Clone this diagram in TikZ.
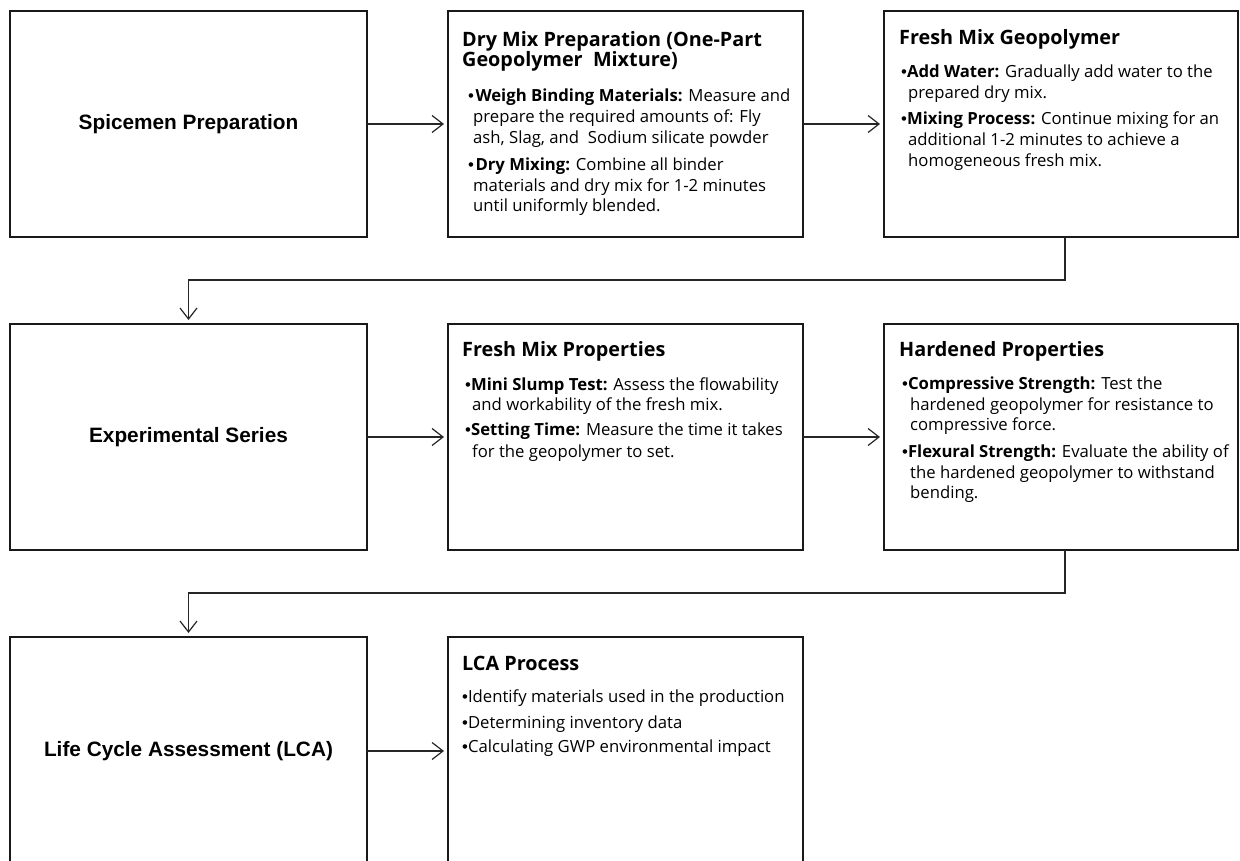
\documentclass[tikz,border=0pt]{standalone}
\usepackage{fontspec}
\setmainfont{Open Sans}[Ligatures={NoCommon}]
\newfontfamily\lsans{Liberation Sans}
\usetikzlibrary{arrows.meta}
\newcommand{\bul}{{\lsans •}}
\begin{document}
\begin{tikzpicture}[x=1pt,y=-1pt,
  box/.style={draw=black!90, line width=2.6pt, rectangle, inner sep=0pt, outer sep=0pt, minimum height=226pt, anchor=north west},
  conn/.style={draw=black!85, line width=1.2pt, -{Straight Barb[length=11pt,width=17pt]}, shorten >=4pt},
  lbl/.style={font=\lsans\bfseries\fontsize{20.8}{24}\selectfont, inner sep=0pt},
  ttl/.style={anchor=base west, inner sep=0pt, font=\bfseries\fontsize{19.8}{22}\selectfont},
  ln/.style={anchor=base west, inner sep=0pt, font=\fontsize{16.7}{19}\selectfont},
]
\useasboundingbox (0,0) rectangle (1240,861);
\clip (0,0) rectangle (1240,861);

% boxes
\node[box, minimum width=357pt] (b1) at (10,11) {};
\node[box, minimum width=355pt] (b2) at (448,11) {};
\node[box, minimum width=354pt] (b3) at (884,11) {};
\node[box, minimum width=357pt] (b4) at (10,324) {};
\node[box, minimum width=355pt] (b5) at (448,324) {};
\node[box, minimum width=354pt] (b6) at (884,324) {};
\node[box, minimum width=357pt, minimum height=228pt] (b7) at (10,637) {};
\node[box, minimum width=355pt, minimum height=228pt] (b8) at (448,637) {};

% left labels
\node[lbl] (l1) at (b1.center) {Spicemen Preparation};
\node[lbl] (l4) at (b4.center) {Experimental Series};
\node[lbl] (l7) at (b7.center) {Life Cycle Assessment (LCA)};

% box 2
\node[ttl] (t2a) at (462,47) {Dry Mix Preparation (One-Part};
\node[ttl] (t2b) at (462,67) {Geopolymer~ Mixture)};
\node[ln] (t2c) at (468,102) {\bul\hspace{1.5pt}\textbf{Weigh Binding Materials:} Measure and};
\node[ln] (t2d) at (473,123) {prepare the required amounts of: Fly};
\node[ln] (t2e) at (473,144) {ash, Slag, and~ Sodium silicate powder};
\node[ln] (t2f) at (468,171) {\bul\hspace{1.5pt}\textbf{Dry Mixing:} Combine all binder};
\node[ln] (t2g) at (473,192) {materials and dry mix for 1-2 minutes};
\node[ln] (t2h) at (473,212) {until uniformly blended.};

% box 3
\node[ttl] (t3a) at (899,45) {Fresh Mix Geopolymer};
\node[ln] (t3b) at (901,78) {\bul\textbf{Add Water:} Gradually add water to the};
\node[ln] (t3c) at (908,99) {prepared dry mix.};
\node[ln] (t3d) at (901,125) {\bul\textbf{Mixing Process:} Continue mixing for an};
\node[ln] (t3e) at (908,146) {additional 1-2 minutes to achieve a};
\node[ln] (t3f) at (908,167) {homogeneous fresh mix.};

% box 5
\node[ttl] (t5a) at (462,356) {Fresh Mix Properties};
\node[ln] (t5b) at (465,390) {\bul\textbf{Mini Slump Test:} Assess the flowability};
\node[ln] (t5c) at (472,410) {and workability of the fresh mix.};
\node[ln] (t5d) at (465,435) {\bul\textbf{Setting Time:} Measure the time it takes};
\node[ln] (t5e) at (472,457) {for the geopolymer to set.};

% box 6
\node[ttl] (t6a) at (899,356) {Hardened Properties};
\node[ln] (t6b) at (902,389) {\bul\textbf{Compressive Strength:} Test the};
\node[ln] (t6c) at (910,410) {hardened geopolymer for resistance to};
\node[ln] (t6d) at (910,430) {compressive force.};
\node[ln] (t6e) at (902,457) {\bul\textbf{Flexural Strength:} Evaluate the ability of};
\node[ln] (t6f) at (910,478) {the hardened geopolymer to withstand};
\node[ln] (t6g) at (910,498) {bending.};

% box 8
\node[ttl] (t8a) at (462,670) {LCA Process};
\node[ln] (t8b) at (462,702) {\bul Identify materials used in the production};
\node[ln] (t8c) at (462,728) {\bul Determining inventory data};
\node[ln] (t8d) at (462,752) {\bul Calculating GWP environmental impact};

% connectors
\draw[conn] (b1.east) -- (b2.west);
\draw[conn] (b2.east) -- (b3.west);
\draw[conn] (b4.east) -- (b5.west);
\draw[conn] (b5.east) -- (b6.west);
\draw[conn] (b7.east) -- (b8.west);
\draw[conn] ([xshift=4pt]b3.south) -- ++(0,43) -| (b4.north);
\draw[conn] ([xshift=4pt]b6.south) -- ++(0,43) -| (b7.north);
\end{tikzpicture}
\end{document}
